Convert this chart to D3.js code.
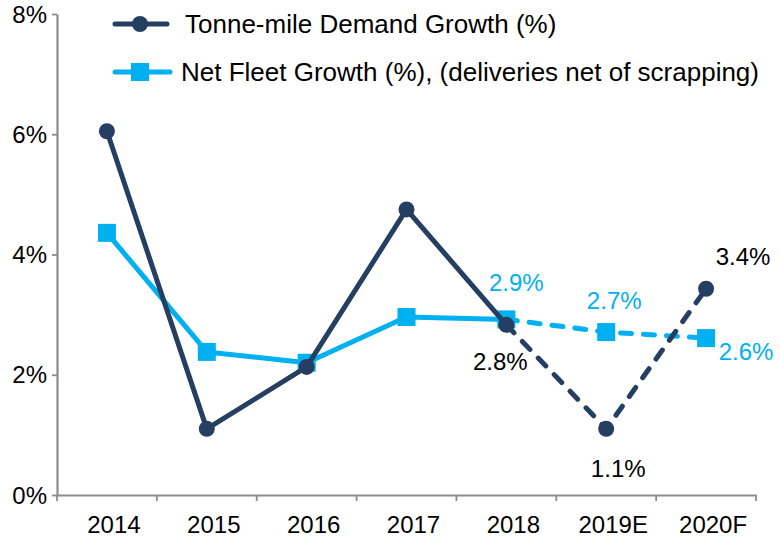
<!DOCTYPE html>
<html>
<head>
<meta charset="utf-8">
<script src="https://cdn.jsdelivr.net/npm/d3@7.9.0/dist/d3.min.js"></script>
<style>
  body { margin: 0; background: #fff; }
  svg { display: block; font-family: Arial, "Liberation Sans", sans-serif; }
</style>
</head>
<body>
<svg id="chart" width="780" height="539"></svg>
<script>
// chart data
const years = ['2014', '2015', '2016', '2017', '2018', '2019E', '2020F'];
const demandGrowth = [6.05, 1.1, 2.13, 4.75, 2.83, 1.1, 3.43];
const fleetGrowth = [4.36, 2.38, 2.2, 2.96, 2.92, 2.71, 2.61];
const yTicks = [0, 2, 4, 6, 8];
const demandName = 'Tonne-mile Demand Growth (%)';
const fleetName = 'Net Fleet Growth (%), (deliveries net of scrapping)';
// labelled points: [index, text]
const demandLabels = [[4, '2.8%'], [5, '1.1%'], [6, '3.4%']];
const fleetLabels = [[4, '2.9%'], [5, '2.7%'], [6, '2.6%']];

const navy = '#243f61';
const blue = '#00b0f0';
const axisGrey = '#8c8c8c';

const margin = { top: 14, right: 24, bottom: 44, left: 57 };
const width = 780, height = 539;

const svg = d3.select('#chart');

const x = d3.scaleBand()
    .domain(years)
    .range([margin.left, width - margin.right]);

const y = d3.scaleLinear()
    .domain([0, 8])
    .range([height - margin.bottom, margin.top]);

const cx = d => x(d) + x.bandwidth() / 2;

// y axis
const yAxis = svg.append('g')
    .attr('transform', `translate(${margin.left},0)`)
    .call(d3.axisLeft(y).tickValues(yTicks).tickFormat(d => d + '%').tickSize(5).tickSizeOuter(0).tickPadding(5));
yAxis.select('.domain').attr('stroke', axisGrey).attr('stroke-width', 2.2);
yAxis.selectAll('.tick line').attr('stroke', axisGrey).attr('stroke-width', 1.8);
yAxis.selectAll('.tick text').attr('font-size', 24).attr('fill', '#000').attr('dy', '0.34em');

// x axis (labels centred in bands, ticks on band edges)
const xAxis = svg.append('g')
    .attr('transform', `translate(0,${y(0)})`)
    .call(d3.axisBottom(x).tickSize(0).tickSizeOuter(0).tickPadding(21));
xAxis.select('.domain').attr('stroke', axisGrey).attr('stroke-width', 2.2);
xAxis.selectAll('.tick text').attr('font-size', 24).attr('fill', '#000').attr('dx', 7);

const edges = years.map(d => x(d)).concat([x.range()[1]]);
xAxis.selectAll('.edge')
    .data(edges)
    .enter()
    .append('line')
    .attr('class', 'edge')
    .attr('x1', d => d).attr('x2', d => d)
    .attr('y1', 0).attr('y2', 6)
    .attr('stroke', axisGrey)
    .attr('stroke-width', 1.8);

const line = d3.line()
    .x(d => cx(d.year))
    .y(d => y(d.value));

function drawSeries(values, color, marker) {
    const pts = years.map((yr, i) => ({ year: yr, value: values[i] }));
    const g = svg.append('g');

    // actuals solid, estimates dashed
    g.append('path')
        .datum(pts.slice(0, 5))
        .attr('d', line)
        .attr('fill', 'none')
        .attr('stroke', color)
        .attr('stroke-width', 5)
        .attr('stroke-linejoin', 'round');

    g.append('path')
        .datum(pts.slice(4))
        .attr('d', line)
        .attr('fill', 'none')
        .attr('stroke', color)
        .attr('stroke-width', 5)
        .attr('stroke-linecap', 'round')
        .attr('stroke-dasharray', '11,12');

    if (marker === 'circle') {
        g.selectAll('circle')
            .data(pts)
            .enter()
            .append('circle')
            .attr('cx', d => cx(d.year))
            .attr('cy', d => y(d.value))
            .attr('r', 8)
            .attr('fill', color);
    } else {
        g.selectAll('rect')
            .data(pts)
            .enter()
            .append('rect')
            .attr('x', d => cx(d.year) - 9)
            .attr('y', d => y(d.value) - 9)
            .attr('width', 18)
            .attr('height', 18)
            .attr('fill', color);
    }
}

drawSeries(fleetGrowth, blue, 'square');
drawSeries(demandGrowth, navy, 'circle');

// data labels
const fleetOffsets = [[10, -28], [8, -23], [40, 22]];
svg.selectAll('.flabel')
    .data(fleetLabels)
    .enter()
    .append('text')
    .attr('class', 'flabel')
    .attr('x', (d, i) => cx(years[d[0]]) + fleetOffsets[i][0])
    .attr('y', (d, i) => y(fleetGrowth[d[0]]) + fleetOffsets[i][1])
    .attr('text-anchor', 'middle')
    .attr('font-size', 24)
    .attr('fill', blue)
    .text(d => d[1]);

const demandOffsets = [[-6, 45], [12, 48], [37, -24]];
svg.selectAll('.dlabel')
    .data(demandLabels)
    .enter()
    .append('text')
    .attr('class', 'dlabel')
    .attr('x', (d, i) => cx(years[d[0]]) + demandOffsets[i][0])
    .attr('y', (d, i) => y(demandGrowth[d[0]]) + demandOffsets[i][1])
    .attr('text-anchor', 'middle')
    .attr('font-size', 24)
    .attr('fill', '#000')
    .text(d => d[1]);

// legend
const legend = svg.append('g');
const legendItems = [
    { name: demandName, color: navy, marker: 'circle', y: 24, x2: 167, tx: 185 },
    { name: fleetName, color: blue, marker: 'square', y: 72, x2: 170, tx: 181 }
];
legendItems.forEach(item => {
    legend.append('line')
        .attr('x1', 115).attr('x2', item.x2)
        .attr('y1', item.y).attr('y2', item.y)
        .attr('stroke', item.color)
        .attr('stroke-width', 5)
        .attr('stroke-linecap', 'round');
    if (item.marker === 'circle') {
        legend.append('circle')
            .attr('cx', 140).attr('cy', item.y).attr('r', 8)
            .attr('fill', item.color);
    } else {
        legend.append('rect')
            .attr('x', 131).attr('y', item.y - 9)
            .attr('width', 18).attr('height', 18)
            .attr('fill', item.color);
    }
    legend.append('text')
        .attr('x', item.tx)
        .attr('y', item.y + 9)
        .attr('font-size', 26)
        .attr('fill', '#000')
        .text(item.name);
});
</script>
</body>
</html>
